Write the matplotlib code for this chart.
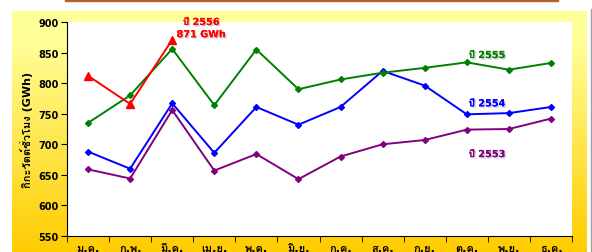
import numpy as np
import matplotlib
matplotlib.use('Agg')
import matplotlib.pyplot as plt
import matplotlib.patheffects as pe
from matplotlib import font_manager, ft2font
from matplotlib.patches import Rectangle
from matplotlib.lines import Line2D

months = ['ม.ค.', 'ก.พ.', 'มี.ค.', 'เม.ย.', 'พ.ค.', 'มิ.ย.',
          'ก.ค.', 'ส.ค.', 'ก.ย.', 'ต.ค.', 'พ.ย.', 'ธ.ค.']
y2553 = [659, 644, 756, 657, 684, 643, 680, 700, 707, 724, 725, 742]
y2554 = [688, 660, 767, 686, 761, 732, 761, 820, 796, 749, 751, 761]
y2555 = [735, 780, 856, 764, 855, 790, 806, 817, 825, 834, 822, 833]
y2556 = [812, 766, 871]
yticks = [550, 600, 650, 700, 750, 800, 850, 900]


# find an installed font that has Thai glyphs
def find_thai():
    for f in font_manager.fontManager.ttflist:
        try:
            if 0x0E01 in ft2font.FT2Font(f.fname).get_charmap():
                return f.name
        except Exception:
            pass
    return None

thai = find_thai()
fams = ['DejaVu Sans'] + ([thai] if thai else [])
plt.rcParams['font.family'] = fams

fig = plt.figure(figsize=(5.92, 2.53), dpi=100)
W, H = 592, 253

# yellow gradient panel
bg = fig.add_axes([12 / W, 0, (587 - 12) / W, (253 - 12) / H])
t = np.linspace(0, 1, 256)
top = np.array([255, 255, 153]) / 255
bot = np.array([255, 204, 0]) / 255
w = np.clip((t - 0.12) / 0.88, 0, 1)
grad = top[None, :] * (1 - w[:, None]) + bot[None, :] * w[:, None]
bg.imshow(grad[:, None, :], aspect='auto', extent=[0, 1, 0, 1])
bg.axis('off')

# brown strip at the top, thin grey line at right
fig.patches.append(Rectangle((65 / W, 1 - 2 / H), (558 - 65) / W, 2 / H,
                             transform=fig.transFigure, color='#b0602a'))
fig.lines.append(Line2D([591 / W, 591 / W], [0, 1 - 10 / H],
                        transform=fig.transFigure, color='#a0a0a0', lw=1))

ax = fig.add_axes([67 / W, 16 / H, (572 - 67) / W, (237 - 23) / H])
ax.set_facecolor('white')
x = np.arange(len(months))

ax.plot(x, y2553, color='#800080', lw=1.4, marker='D', ms=3)
ax.plot(x, y2554, color='#0000ff', lw=1.4, marker='D', ms=3)
ax.plot(x, y2555, color='#008000', lw=1.4, marker='D', ms=3)
ax.plot(x[:len(y2556)], y2556, color='#ff0000', lw=1.4, marker='^', ms=6)

ax.set_xlim(-0.5, 11.5)
ax.set_ylim(550, 900)
ax.set_yticks(yticks)
ax.set_xticks(x)
ax.set_xticklabels(months)
ax.set_xticks(np.arange(-0.5, 12, 1), minor=True)
ax.tick_params(axis='x', which='major', length=0, pad=5, labelsize=8)
ax.tick_params(axis='x', which='minor', length=4, direction='out')
ax.tick_params(axis='y', length=4, direction='out', pad=2, labelsize=7)
for lab in ax.get_xticklabels() + ax.get_yticklabels():
    lab.set_fontweight('bold')
for s in ['top', 'right']:
    ax.spines[s].set_visible(False)

ax.set_ylabel('กิกะวัตต์ชั่วโมง (GWh)', fontsize=8, fontweight='bold', labelpad=4)

shadow = [pe.withSimplePatchShadow(offset=(1, -1), shadow_rgbFace='#999999', alpha=0.5),
          pe.Normal()]
ax.text(2.69, 900, 'ปี 2556', color='#ff0000', fontsize=7, fontweight='bold',
        ha='center', va='center', path_effects=shadow, clip_on=False)
ax.text(2.69, 880, '871 GWh', color='#ff0000', fontsize=7, fontweight='bold',
        ha='center', va='center', path_effects=shadow)
ax.text(9.48, 846, 'ปี 2555', color='#008000', fontsize=7, fontweight='bold',
        ha='center', va='center', path_effects=shadow)
ax.text(9.48, 767, 'ปี 2554', color='#0000ff', fontsize=7, fontweight='bold',
        ha='center', va='center', path_effects=shadow)
ax.text(9.48, 684, 'ปี 2553', color='#800080', fontsize=7, fontweight='bold',
        ha='center', va='center', path_effects=shadow)

fig.savefig('out.png', dpi=100)
